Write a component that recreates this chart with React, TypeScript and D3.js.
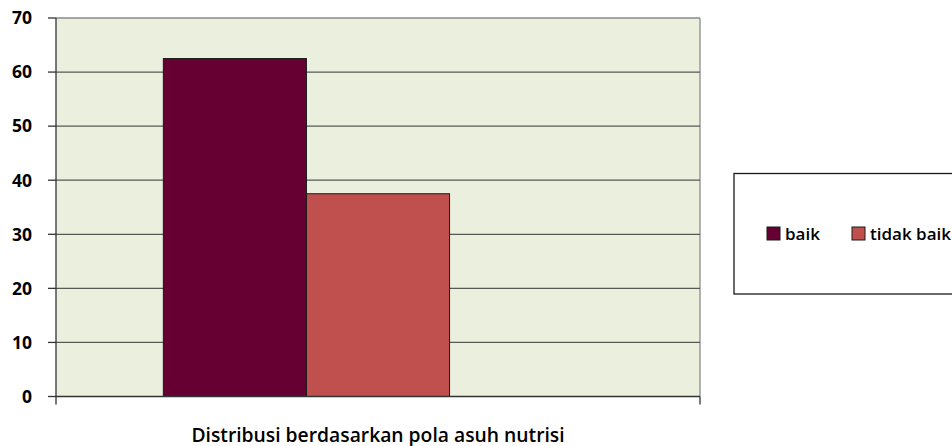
import React from "react";
import * as d3 from "d3";

const categories = ["Distribusi berdasarkan pola asuh nutrisi"];
const seriesNames = ["baik", "tidak baik"];
const seriesValues = [[62.5], [37.5]];
const seriesColors = ["#660033", "#C0504D"];
const yTicks = [0, 10, 20, 30, 40, 50, 60, 70];

const W = 952;
const H = 446;
const plot = { left: 56, right: 700, top: 18, bottom: 396.5 };

export default function App() {
  const y = d3.scaleLinear().domain([0, 70]).range([plot.bottom, plot.top]);
  const x0 = d3
    .scaleBand<string>()
    .domain(categories)
    .range([plot.left, plot.right])
    .paddingOuter(0.25)
    .paddingInner(0);
  // three slots per category (the last one is empty in the original chart)
  const x1 = d3
    .scaleBand<string>()
    .domain([...seriesNames, "__empty__"])
    .range([0, x0.bandwidth()]);

  const font = "'Open Sans', 'DejaVu Sans', sans-serif";

  return (
    <svg
      width={W}
      height={H}
      style={{ position: "absolute", left: 0, top: 0, background: "#fff" }}
    >
      <rect
        x={plot.left}
        y={plot.top}
        width={plot.right - plot.left}
        height={plot.bottom - plot.top}
        fill="#EBEFDE"
      />
      {/* plot border top/right */}
      <line x1={plot.left} x2={plot.right} y1={plot.top} y2={plot.top} stroke="#8a8a8a" strokeWidth={1.3} />
      <line x1={plot.right} x2={plot.right} y1={plot.top} y2={plot.bottom} stroke="#9a9a9a" strokeWidth={1.5} />
      {/* gridlines */}
      {yTicks
        .filter((t) => t > 0 && t < 70)
        .map((t) => (
          <line
            key={t}
            x1={plot.left}
            x2={plot.right}
            y1={y(t)}
            y2={y(t)}
            stroke="#555a55"
            strokeWidth={1.3}
          />
        ))}
      {/* bars */}
      {categories.map((c, ci) =>
        seriesNames.map((s, si) => (
          <rect
            key={c + s}
            x={(x0(c) ?? 0) + (x1(s) ?? 0)}
            y={y(seriesValues[si][ci])}
            width={x1.bandwidth()}
            height={y(0) - y(seriesValues[si][ci])}
            fill={seriesColors[si]}
            stroke="#1a1a1a"
            strokeWidth={1}
          />
        ))
      )}
      {/* y axis */}
      <line x1={plot.left} x2={plot.left} y1={plot.top} y2={plot.bottom + 8} stroke="#333" strokeWidth={1.3} />
      {yTicks.map((t) => (
        <g key={t}>
          <line x1={plot.left - 8} x2={plot.left} y1={y(t)} y2={y(t)} stroke="#333" strokeWidth={1.3} />
          <text
            x={32}
            y={y(t)}
            dy="0.36em"
            textAnchor="end"
            fontFamily={font}
            fontWeight={700}
            fontSize={17.5}
            fill="#000"
          >
            {t}
          </text>
        </g>
      ))}
      {/* x axis */}
      <line x1={plot.left} x2={plot.right} y1={plot.bottom} y2={plot.bottom} stroke="#333" strokeWidth={1.5} />
      <line x1={plot.right} x2={plot.right} y1={plot.bottom} y2={plot.bottom + 8} stroke="#333" strokeWidth={1.3} />
      {categories.map((c) => (
        <text
          key={c}
          x={(x0(c) ?? 0) + x0.bandwidth() / 2}
          y={441.5}
          textAnchor="middle"
          fontFamily={font}
          fontWeight={600}
          fontSize={19.3}
          fill="#000"
        >
          {c}
        </text>
      ))}
      {/* legend */}
      <rect x={734} y={173.5} width={240} height={120.5} fill="#fff" stroke="#1a1a1a" strokeWidth={1.3} />
      {seriesNames.map((s, i) => {
        const lx = [767, 852][i];
        return (
          <g key={s}>
            <rect x={lx} y={227} width={13} height={13} fill={seriesColors[i]} stroke="#1a1a1a" strokeWidth={1} />
            <text x={lx + 18} y={240} fontFamily={font} fontWeight={600} fontSize={17} fill="#000">
              {s}
            </text>
          </g>
        );
      })}
    </svg>
  );
}
